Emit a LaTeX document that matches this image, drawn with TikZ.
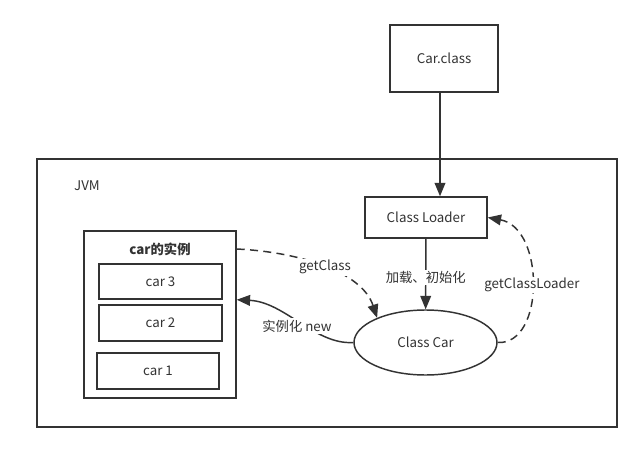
\documentclass[tikz,border=0pt]{standalone}
\usepackage{fontspec}
\setmainfont{Noto Sans CJK SC}
\usetikzlibrary{arrows.meta,calc,shapes.geometric}
\definecolor{ln}{HTML}{333333}
\begin{document}
\begin{tikzpicture}[x=0.75pt,y=-0.75pt,
  every node/.style={font=\fontsize{10}{12}\selectfont, text=ln, inner sep=0pt},
  box/.style={draw=ln, line width=1.1pt, fill=white, rectangle},
  conn/.style={draw=ln, line width=1.1pt, -{Triangle[length=10pt,width=8pt]}},
  dsh/.style={conn, dash pattern=on 6pt off 4pt},
  lbl/.style={fill=white, inner sep=1pt}]
\useasboundingbox (0,0) rectangle (642,452);
\fill[white] (0,0) rectangle (642,452);
\node[box, minimum width=435pt, minimum height=201pt] (jvm) at (327,293) {};
\node (jvmt) at (87,186) {JVM};
\node[box, minimum width=81pt, minimum height=50.25pt] (carclass) at (444,58.5) {Car.class};
\node[box, minimum width=91.5pt, minimum height=30.75pt] (cl) at (426,217.5) {Class Loader};
\node[draw=ln, line width=1.1pt, fill=white, ellipse, minimum width=107.25pt, minimum height=48.75pt] (cc) at (425.5,342.5) {Class Car};
\node[box, minimum width=114pt, minimum height=125.25pt] (inst) at (160,314.5) {};
\node[font=\fontsize{10}{12}\selectfont\bfseries] (title) at (160,249) {car的实例};
\node[box, minimum width=92.25pt, minimum height=26.25pt] (car3) at (160.5,281.5) {car 3};
\node[box, minimum width=92.25pt, minimum height=27pt] (car2) at (160.5,323) {car 2};
\node[box, minimum width=91.5pt, minimum height=27pt] (car1) at (158,371) {car 1};
\coordinate (cctop) at ($(carclass.south)+(-4,0)$);
\draw[conn] (cctop) -- (cctop |- cl.north);
\draw[conn] (cl) -- (cc) node[pos=0.55, lbl] {加载、初始化};
\draw[dsh] (title -| inst.east) .. controls (300,252) and (362,272) .. (cc.153)
  node[pos=0.5, lbl] {getClass};
\draw[conn] (cc.west) .. controls (315,345) and (285,302) .. (car3.south -| inst.east);
\node[lbl] (newl) at (297,326) {实例化 new};
\draw[dsh] (cc.east) .. controls (545,345) and (545,228) .. (cl.east)
  node[pos=0.5, lbl] {getClassLoader};
\end{tikzpicture}
\end{document}
